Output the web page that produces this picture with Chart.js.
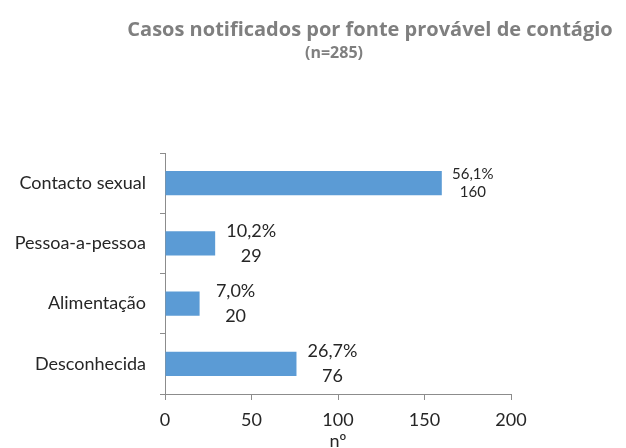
<!DOCTYPE html>
<html>
<head>
<meta charset="utf-8">
<script src="https://cdn.jsdelivr.net/npm/chart.js@4"></script>
<style>
  html, body { margin: 0; padding: 0; background: #fff; }
  #wrap { width: 626px; height: 448px; position: relative; }
</style>
</head>
<body>
<div id="wrap"><canvas id="chart"></canvas></div>
<script>
// Categories and values
const categories = ['Contacto sexual', 'Pessoa-a-pessoa', 'Alimentação', 'Desconhecida'];
const counts = [160, 29, 20, 76];
const percentLabels = ['56,1%', '10,2%', '7,0%', '26,7%'];
const xTicks = [0, 50, 100, 150, 200];

const titleText = 'Casos notificados por fonte provável de contágio';
const subtitleText = '(n=285)';

// Excel shrank the first label, the rest are the normal size
const labelFontSizes = [15, 18, 18, 18];

const axisColor = '#8c8c8c';
const textColor = '#262626';

// Draw the title the way the original sits (a bit right of centre)
const titlePlugin = {
  id: 'titleText',
  afterDraw(chart) {
    const ctx = chart.ctx;
    ctx.save();
    ctx.fillStyle = '#7f7f7f';
    ctx.textAlign = 'center';
    ctx.textBaseline = 'middle';
    ctx.font = 'bold 20px "Open Sans"';
    ctx.fillText(titleText, 370, 30);
    ctx.font = 'bold 16px "Open Sans"';
    ctx.fillText(subtitleText, 334, 53);
    ctx.restore();
  }
};

// Two-line value labels to the right of each bar
const valueLabels = {
  id: 'valueLabels',
  afterDatasetsDraw(chart) {
    const ctx = chart.ctx;
    const meta = chart.getDatasetMeta(0);
    ctx.save();
    ctx.fillStyle = textColor;
    ctx.textAlign = 'center';
    ctx.textBaseline = 'middle';
    meta.data.forEach(function(bar, i) {
      const size = labelFontSizes[i];
      ctx.font = size + 'px Lato';
      const small = size < 17;
      const cx = bar.x + (small ? 31 : 36);
      const gap = small ? 9 : 12.5;
      ctx.fillText(percentLabels[i], cx, bar.y - gap);
      ctx.fillText(String(counts[i]), cx, bar.y + gap);
    });
    ctx.restore();
  }
};

function draw() {
  new Chart(document.getElementById('chart'), {
    type: 'bar',
    data: {
      labels: categories,
      datasets: [{
        data: counts,
        backgroundColor: '#5b9bd5',
        borderWidth: 0,
        barPercentage: 0.8,
        categoryPercentage: 0.5
      }]
    },
    options: {
      indexAxis: 'y',
      responsive: true,
      maintainAspectRatio: false,
      animation: false,
      layout: {
        padding: { top: 153, right: 115, left: 8, bottom: -4 }
      },
      plugins: {
        legend: { display: false },
        tooltip: { enabled: false }
      },
      scales: {
        x: {
          min: 0,
          max: 200,
          afterBuildTicks: function(scale) {
            scale.ticks = xTicks.map(function(v) { return { value: v }; });
          },
          afterFit: function(scale) { scale.height = 58; },
          grid: {
            drawOnChartArea: false,
            color: axisColor,
            tickLength: 6
          },
          border: { color: axisColor },
          ticks: {
            color: textColor,
            font: { family: 'Lato', size: 18 },
            padding: 9
          },
          title: {
            display: true,
            text: 'nº',
            color: textColor,
            font: { family: 'Lato', size: 18 },
            padding: { top: 0, bottom: 0 }
          }
        },
        y: {
          afterFit: function(scale) { scale.width = 157; },
          grid: {
            drawOnChartArea: false,
            color: axisColor,
            tickLength: 5
          },
          border: { color: axisColor },
          ticks: {
            color: textColor,
            font: { family: 'Lato', size: 18 },
            padding: 14
          }
        }
      }
    },
    plugins: [titlePlugin, valueLabels]
  });
}

Promise.all([
  document.fonts.load('bold 20px "Open Sans"'),
  document.fonts.load('18px Lato')
]).then(draw, draw);
</script>
</body>
</html>
